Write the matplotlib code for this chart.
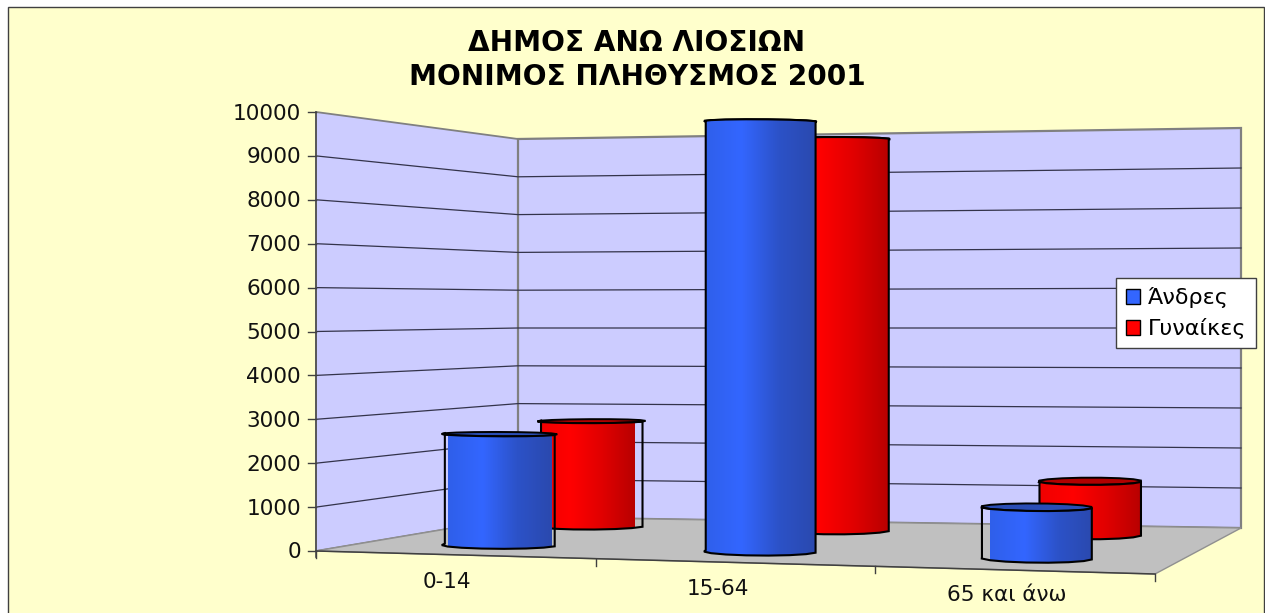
import numpy as np
import matplotlib
matplotlib.use("Agg")
import matplotlib.pyplot as plt
from matplotlib.colors import LinearSegmentedColormap
from matplotlib.patches import Patch, Polygon, Rectangle

plt.rcParams['font.family'] = ['DejaVu Sans']

# Data
title = "ΔΗΜΟΣ ΑΝΩ ΛΙΟΣΙΩΝ\nΜΟΝΙΜΟΣ ΠΛΗΘΥΣΜΟΣ 2001"
categories = ["0-14", "15-64", "65 και άνω"]
men = [2600, 9900, 1150]
women = [2660, 9750, 1310]
yticks = [0, 1000, 2000, 3000, 4000, 5000, 6000, 7000, 8000, 9000, 10000]
zmax = 10000

# Box corners in pixels: (x, floor y, wall height)
front_left = (316, 551, 439)
front_right = (1155, 574, 464)
back_left = (518, 517, 378)
back_right = (1241, 528, 400)


def project(u, v, z=0):
    # u runs along the categories, v goes from the front to the back wall
    front = (1 - u) * np.array(front_left) + u * np.array(front_right)
    back = (1 - u) * np.array(back_left) + u * np.array(back_right)
    x, floor, h = (1 - v) * front + v * back
    return x, floor - h * z / zmax


fig = plt.figure(figsize=(12.65, 6.13), dpi=100, facecolor="white")
ax = fig.add_axes([0, 0, 1, 1])
ax.axis("off")

# Chart area
ax.add_patch(Rectangle((8, 7), 1256, 620, fc="#FFFFCC", ec="#404040", lw=1, zorder=1))

# Walls and floor
left_wall = [project(0, 0), project(0, 1), project(0, 1, zmax), project(0, 0, zmax)]
back_wall = [project(0, 1), project(1, 1), project(1, 1, zmax), project(0, 1, zmax)]
floor = [project(0, 0), project(1, 0), project(1, 1), project(0, 1)]
ax.add_patch(Polygon(left_wall, fc="#CCCCFF", ec="#808080", lw=1.3, zorder=2))
ax.add_patch(Polygon(back_wall, fc="#CCCCFF", ec="#808080", lw=1.6, zorder=2))
ax.add_patch(Polygon(floor, fc="#C0C0C0", ec="#909090", lw=1, zorder=2))

# Gridlines
for t in yticks[1:-1]:
    pts = [project(0, 0, t), project(0, 1, t), project(1, 1, t)]
    ax.plot([p[0] for p in pts], [p[1] for p in pts], color="#33334A", lw=0.9, zorder=3)

# Axes and ticks
ax.plot([316, 316], [project(0, 0, zmax)[1], 557], color="#505050", lw=1.2, zorder=4)
ax.plot([316, 1155], [551, 574], color="#404040", lw=1.1, zorder=4)
for t in yticks:
    _, y = project(0, 0, t)
    ax.plot([308, 316], [y, y], color="#404040", lw=1, zorder=4)
    ax.text(301, y + 1.5, str(t), ha="right", va="center", fontsize=15.6, color="#111111", zorder=4)
for k in range(4):
    x, y = project(k / 3, 0)
    ax.plot([x, x], [y, y + 7], color="#404040", lw=1, zorder=4)

label_x = [447, 718, 1007]
label_y = [582, 589, 595]
for name, x, y in zip(categories, label_x, label_y):
    ax.text(x, y, name, ha="center", va="center", fontsize=15.5, color="#111111", zorder=4)

ax.text(637, 60, title, ha="center", va="center", fontsize=20.2, fontweight="bold",
        linespacing=1.3, color="black", zorder=4)

blue_map = LinearSegmentedColormap.from_list("blue", ["#2F5FEA", "#3366FF", "#2C52C8", "#2A49AE"])
red_map = LinearSegmentedColormap.from_list("red", ["#F00000", "#FF0000", "#E00000", "#B80000"])

layer = 10


def cylinder(u, v, value, cmap, top_color, inset_left=0, inset_right=0):
    global layer
    du, dv = 0.068, 0.1
    t = np.linspace(0, np.pi, 9)
    # front half of the rim, drawn left to right
    rim_u = u - du * np.cos(t)
    rim_v = v - dv * np.sin(t)
    back_v = v + dv * np.sin(t)
    low = [project(a, b, 0) for a, b in zip(rim_u, rim_v)]
    high = [project(a, b, value) for a, b in zip(rim_u, rim_v)]
    high_back = [project(a, b, value) for a, b in zip(rim_u, back_v)]

    ax.add_patch(Polygon(high + high_back[::-1], fc=top_color, ec="black", lw=1.4, zorder=layer))

    body = low + high[::-1]
    xs = [p[0] for p in body]
    ys = [p[1] for p in body]
    grad = np.linspace(0, 1, 256).reshape(1, -1)
    img = ax.imshow(grad, cmap=cmap, aspect="auto", interpolation="bilinear", zorder=layer + 1,
                    extent=(min(xs) + inset_left, max(xs) - inset_right, max(ys), min(ys)))
    img.set_clip_path(Polygon(body, transform=ax.transData))

    ax.add_patch(Polygon(body, fill=False, ec="black", lw=1.5, zorder=layer + 2))
    layer += 3


# Back row first, front row on top
men_u = [0.160, 0.483, 0.825]
women_u = [0.153, 0.483, 0.821]
red_inset = [(0, 8), (0, 0), (0, 0)]
blue_inset = [(6, 3), (0, 0), (8, 0)]
for i in range(3):
    cylinder(women_u[i], 0.8, women[i], red_map, "#B00000", *red_inset[i])
    cylinder(men_u[i], 0.27, men[i], blue_map, "#2A4DB5", *blue_inset[i])

handles = [Patch(fc="#3366FF", ec="black", label="Άνδρες"),
           Patch(fc="#FF0000", ec="black", label="Γυναίκες")]
leg = ax.legend(handles=handles, loc="center", bbox_to_anchor=(1186, 313), bbox_transform=ax.transData,
                fontsize=16, frameon=True, fancybox=False, framealpha=1, facecolor="white",
                edgecolor="#404040", handlelength=0.65, handleheight=0.65, handletextpad=0.35,
                labelspacing=0.45, borderpad=0.42, borderaxespad=0)
leg.set_zorder(100)

ax.set_xlim(0, 1265)
ax.set_ylim(613, 0)

fig.savefig("out.png", dpi=100, facecolor="white")
